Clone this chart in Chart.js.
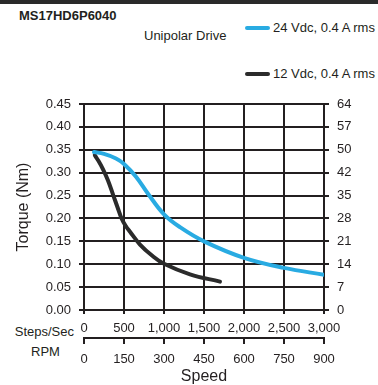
<!DOCTYPE html>
<html>
<head>
<meta charset="utf-8">
<script src="https://cdn.jsdelivr.net/npm/chart.js@4/dist/chart.umd.min.js"></script>
<style>
  html, body { margin: 0; padding: 0; background: #fff; }
  #wrap { position: relative; width: 378px; height: 385px; overflow: hidden;
          font-family: "Liberation Sans", Arial, sans-serif; color: #231f20; }
  #topbar { position: absolute; left: 0; top: 0; width: 378px; height: 4px; background: #2a2a2a; }
  .txt { position: absolute; white-space: nowrap; font-size: 13px; line-height: 16px; }
  #model { left: 19px; top: 8px; font-weight: bold; }
  #drive { left: 144px; top: 28px; }
  .leg { position: absolute; left: 245px; height: 16px; }
  .leg .swatch { position: absolute; left: 0; top: 6px; width: 25px; height: 4px; border-radius: 2px; }
  .leg .lab { position: absolute; left: 28px; top: 0; font-size: 13px; line-height: 16px; white-space: nowrap; }
  #stepsLab { right: 304px; top: 324px; text-align: right; }
  #rpmLab { left: 31px; top: 344px; }
  canvas { position: absolute; left: 0; top: 0; }
</style>
</head>
<body>
<div id="wrap">
  <div id="topbar"></div>
  <div class="txt" id="model">MS17HD6P6040</div>
  <div class="txt" id="drive">Unipolar Drive</div>
  <div id="legend"></div>
  <div class="txt" id="stepsLab">Steps/Sec</div>
  <div class="txt" id="rpmLab">RPM</div>
  <canvas id="c" width="378" height="385"></canvas>
</div>
<script>
// Pull-out torque curves, speed in full steps per second
const seriesNames = ['24 Vdc, 0.4 A rms', '12 Vdc, 0.4 A rms'];
const seriesColors = ['#29abe2', '#2b2b2b'];

const steps24 = [125, 250, 400, 500, 650, 800, 1000, 1200, 1500, 2000, 2500, 3000];
const torque24 = [0.345, 0.341, 0.331, 0.319, 0.291, 0.254, 0.209, 0.181, 0.150, 0.114, 0.092, 0.077];

const steps12 = [135, 180, 230, 300, 367, 420, 470, 520, 575, 700, 850, 1000, 1325, 1700];
const torque12 = [0.338, 0.326, 0.310, 0.283, 0.250, 0.224, 0.200, 0.184, 0.171, 0.143, 0.119, 0.101, 0.078, 0.062];

// Axis tick labels
const torqueTicks = ['0.00', '0.05', '0.10', '0.15', '0.20', '0.25', '0.30', '0.35', '0.40', '0.45'];
const ozInTicks = ['0', '7', '14', '21', '28', '35', '42', '50', '57', '64'];
const stepsTicks = ['0', '500', '1,000', '1,500', '2,000', '2,500', '3,000'];
const rpmTicks = ['0', '150', '300', '450', '600', '750', '900'];

// Stacked legend on the right of the header
const legend = document.getElementById('legend');
const legendTops = [20, 66];
seriesNames.forEach((name, i) => {
  const row = document.createElement('div');
  row.className = 'leg';
  row.style.top = legendTops[i] + 'px';
  row.innerHTML = '<div class="swatch" style="background:' + seriesColors[i] + '"></div>' +
                  '<div class="lab">' + name + '</div>';
  legend.appendChild(row);
});

const toPoints = (xs, ys) => xs.map((x, i) => ({ x: x, y: ys[i] }));

const FONT = { family: '"Liberation Sans", Arial, sans-serif', size: 13 };
const INK = '#231f20';

new Chart(document.getElementById('c'), {
  type: 'line',
  data: {
    datasets: [
      { label: seriesNames[0], data: toPoints(steps24, torque24), borderColor: seriesColors[0],
        borderWidth: 4, borderCapStyle: 'round', borderJoinStyle: 'round', pointRadius: 0, tension: 0.4,
        xAxisID: 'x', yAxisID: 'y' },
      { label: seriesNames[1], data: toPoints(steps12, torque12), borderColor: seriesColors[1],
        borderWidth: 4, borderCapStyle: 'round', borderJoinStyle: 'round', pointRadius: 0, tension: 0.4,
        xAxisID: 'x', yAxisID: 'y' }
    ]
  },
  options: {
    responsive: false,
    devicePixelRatio: 1,
    animation: false,
    layout: { padding: { top: 104, left: 0, right: 0, bottom: 0 } },
    plugins: { legend: { display: false }, tooltip: { enabled: false }, title: { display: false } },
    scales: {
      x: {
        type: 'linear', position: 'bottom', weight: 0,
        min: 0, max: 3000,
        afterBuildTicks: s => { s.ticks = stepsTicks.map((_, i) => ({ value: i * 500 })); },
        afterFit: s => { s.height = 28; },
        grid: { color: INK, lineWidth: 2, tickLength: 4, drawTicks: true },
        border: { display: true, color: INK, width: 2 },
        ticks: { autoSkip: false, maxRotation: 0, padding: 7, color: INK, font: FONT,
                 callback: (v, i) => stepsTicks[i] }
      },
      x2: {
        type: 'linear', position: 'bottom', weight: 1,
        min: 0, max: 900,
        afterBuildTicks: s => { s.ticks = rpmTicks.map((_, i) => ({ value: i * 150 })); },
        afterFit: s => { s.height = 47; },
        grid: { color: INK, lineWidth: 2, tickLength: 6, drawTicks: true, drawOnChartArea: false },
        border: { display: true, color: INK, width: 2 },
        ticks: { autoSkip: false, maxRotation: 0, padding: 8, color: INK, font: FONT,
                 callback: (v, i) => rpmTicks[i] },
        title: { display: true, text: 'Speed', color: INK,
                 font: { family: FONT.family, size: 16, lineHeight: 1 },
                 padding: { top: 0, bottom: 0 } }
      },
      y: {
        type: 'linear', position: 'left',
        min: 0, max: 0.45,
        afterBuildTicks: s => { s.ticks = torqueTicks.map(t => ({ value: parseFloat(t) })); },
        afterFit: s => { s.width = 84; },
        grid: { color: INK, lineWidth: 2, tickLength: 5, drawTicks: true },
        border: { display: true, color: INK, width: 2 },
        ticks: { padding: 8, color: INK, font: FONT, callback: (v, i) => torqueTicks[i] },
        title: { display: true, text: 'Torque (Nm)', color: INK,
                 font: { family: FONT.family, size: 16, lineHeight: 1 },
                 padding: { top: 16, bottom: 0 } }
      },
      y2: {
        type: 'linear', position: 'right',
        min: 0, max: 0.45,
        afterBuildTicks: s => { s.ticks = ozInTicks.map((_, i) => ({ value: i * 0.05 })); },
        afterFit: s => { s.width = 54; },
        grid: { color: INK, lineWidth: 2, tickLength: 5, drawTicks: true, drawOnChartArea: false },
        border: { display: true, color: INK, width: 2 },
        ticks: { padding: 8, color: INK, font: FONT, callback: (v, i) => ozInTicks[i] }
      }
    }
  }
});
</script>
</body>
</html>
